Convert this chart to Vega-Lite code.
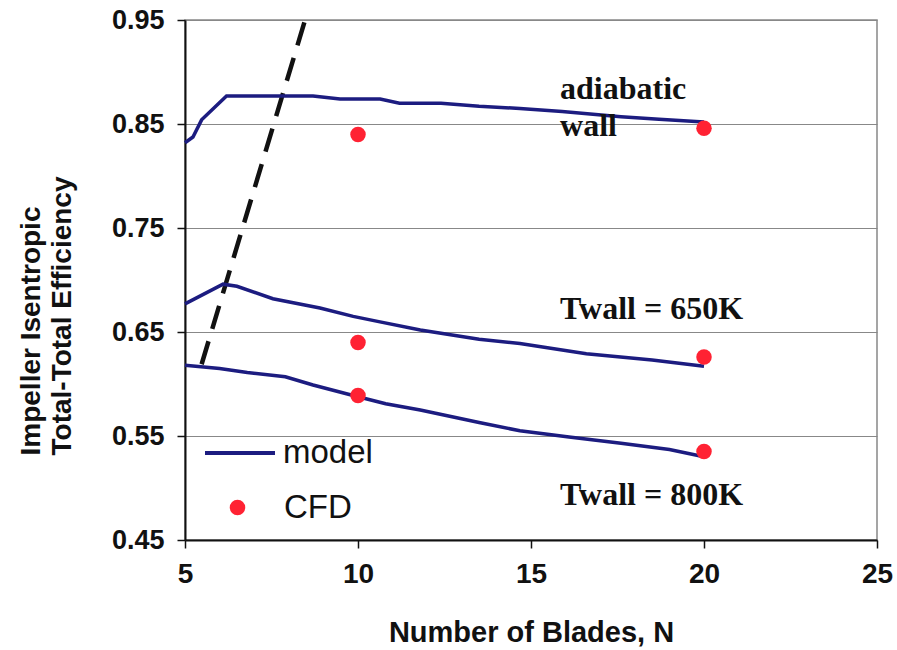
{
  "$schema": "https://vega.github.io/schema/vega-lite/v6.json",
  "width": 692,
  "height": 520,
  "autosize": {"type": "none"},
  "padding": {"left": 185, "top": 20, "right": 20, "bottom": 110},
  "background": "white",
  "config": {
    "view": {"stroke": "#888888", "strokeWidth": 1.5},
    "font": "Liberation Sans"
  },
  "data": {
    "values": [
      {"series": "model", "case": "adiabatic", "n": 5, "eff": 0.832},
      {"series": "model", "case": "adiabatic", "n": 5.23, "eff": 0.8375},
      {"series": "model", "case": "adiabatic", "n": 5.48, "eff": 0.854},
      {"series": "model", "case": "adiabatic", "n": 6.2, "eff": 0.877},
      {"series": "model", "case": "adiabatic", "n": 8.7, "eff": 0.877},
      {"series": "model", "case": "adiabatic", "n": 9.48, "eff": 0.874},
      {"series": "model", "case": "adiabatic", "n": 10.64, "eff": 0.874},
      {"series": "model", "case": "adiabatic", "n": 11.2, "eff": 0.870},
      {"series": "model", "case": "adiabatic", "n": 12.4, "eff": 0.870},
      {"series": "model", "case": "adiabatic", "n": 13.5, "eff": 0.867},
      {"series": "model", "case": "adiabatic", "n": 14.68, "eff": 0.865},
      {"series": "model", "case": "adiabatic", "n": 15.9, "eff": 0.862},
      {"series": "model", "case": "adiabatic", "n": 17.6, "eff": 0.857},
      {"series": "model", "case": "adiabatic", "n": 18.7, "eff": 0.8545},
      {"series": "model", "case": "adiabatic", "n": 20, "eff": 0.852},
      {"series": "model", "case": "650K", "n": 5, "eff": 0.677},
      {"series": "model", "case": "650K", "n": 6.1, "eff": 0.696},
      {"series": "model", "case": "650K", "n": 6.5, "eff": 0.694},
      {"series": "model", "case": "650K", "n": 7.54, "eff": 0.682},
      {"series": "model", "case": "650K", "n": 8.9, "eff": 0.673},
      {"series": "model", "case": "650K", "n": 9.86, "eff": 0.665},
      {"series": "model", "case": "650K", "n": 10.6, "eff": 0.660},
      {"series": "model", "case": "650K", "n": 11.8, "eff": 0.652},
      {"series": "model", "case": "650K", "n": 13.5, "eff": 0.643},
      {"series": "model", "case": "650K", "n": 14.68, "eff": 0.639},
      {"series": "model", "case": "650K", "n": 16.6, "eff": 0.629},
      {"series": "model", "case": "650K", "n": 18.5, "eff": 0.623},
      {"series": "model", "case": "650K", "n": 20, "eff": 0.617},
      {"series": "model", "case": "800K", "n": 5, "eff": 0.618},
      {"series": "model", "case": "800K", "n": 6.0, "eff": 0.615},
      {"series": "model", "case": "800K", "n": 6.8, "eff": 0.611},
      {"series": "model", "case": "800K", "n": 7.9, "eff": 0.607},
      {"series": "model", "case": "800K", "n": 8.7, "eff": 0.599},
      {"series": "model", "case": "800K", "n": 9.86, "eff": 0.589},
      {"series": "model", "case": "800K", "n": 10.8, "eff": 0.581},
      {"series": "model", "case": "800K", "n": 11.8, "eff": 0.575},
      {"series": "model", "case": "800K", "n": 13.5, "eff": 0.563},
      {"series": "model", "case": "800K", "n": 14.68, "eff": 0.555},
      {"series": "model", "case": "800K", "n": 16.1, "eff": 0.549},
      {"series": "model", "case": "800K", "n": 17.6, "eff": 0.543},
      {"series": "model", "case": "800K", "n": 19.0, "eff": 0.537},
      {"series": "model", "case": "800K", "n": 20, "eff": 0.530},
      {"series": "CFD", "case": "adiabatic", "n": 10, "eff": 0.840},
      {"series": "CFD", "case": "650K", "n": 10, "eff": 0.640},
      {"series": "CFD", "case": "800K", "n": 10, "eff": 0.589},
      {"series": "CFD", "case": "adiabatic", "n": 20, "eff": 0.846},
      {"series": "CFD", "case": "650K", "n": 20, "eff": 0.626},
      {"series": "CFD", "case": "800K", "n": 20, "eff": 0.535},
      {"series": "limit", "case": "limit", "n": 5.48, "eff": 0.619},
      {"series": "limit", "case": "limit", "n": 8.47, "eff": 0.95},
      {"series": "label", "case": "adiabatic", "n": 15.84, "eff": 0.8738, "text": "adiabatic"},
      {"series": "label", "case": "adiabatic", "n": 15.84, "eff": 0.8385, "text": "wall"},
      {"series": "label", "case": "650K", "n": 15.84, "eff": 0.6625, "text": "Twall = 650K"},
      {"series": "label", "case": "800K", "n": 15.84, "eff": 0.4837, "text": "Twall = 800K"}
    ]
  },
  "encoding": {
    "x": {
      "field": "n", "type": "quantitative",
      "scale": {"domain": [5, 25], "nice": false, "zero": false},
      "axis": {
        "values": [5, 10, 15, 20, 25],
        "grid": false,
        "title": "Number of Blades, N",
        "domainColor": "#111111", "domainWidth": 2,
        "tickColor": "#111111", "tickSize": 8, "tickWidth": 1.5,
        "labelFont": "Liberation Sans", "labelFontSize": 28, "labelFontWeight": "bold", "labelColor": "#111111",
        "labelPadding": 12, "labelFlush": false,
        "titleFont": "Liberation Sans", "titleFontSize": 29, "titleFontWeight": "bold", "titleColor": "#111111",
        "titlePadding": 30
      }
    },
    "y": {
      "field": "eff", "type": "quantitative",
      "scale": {"domain": [0.45, 0.95], "nice": false, "zero": false},
      "axis": {
        "values": [0.45, 0.55, 0.65, 0.75, 0.85, 0.95],
        "format": ".2f",
        "grid": true, "gridColor": "#888888", "gridWidth": 1.2,
        "domainColor": "#111111", "domainWidth": 2,
        "tickColor": "#111111", "tickSize": 8, "tickWidth": 1.5,
        "labelFont": "Liberation Sans", "labelFontSize": 27, "labelFontWeight": "bold", "labelColor": "#111111",
        "labelPadding": 13, "labelFlush": false,
        "title": ["Impeller Isentropic", "Total-Total Efficiency"],
        "titleFont": "Liberation Sans", "titleFontSize": 28, "titleFontWeight": "bold", "titleColor": "#111111",
        "titleAngle": -90, "titleAlign": "left", "titleBaseline": "bottom",
        "titleX": -140, "titleY": 435, "titleLineHeight": 31
      }
    }
  },
  "layer": [
    {
      "transform": [{"filter": "datum.series === 'limit'"}],
      "mark": {"type": "line", "color": "#111111", "strokeWidth": 4.5, "strokeDash": [24, 13], "clip": true},
      "encoding": {}
    },
    {
      "transform": [{"filter": "datum.series === 'model'"}],
      "mark": {"type": "line", "strokeWidth": 3.5},
      "encoding": {
        "detail": {"field": "case"},
        "stroke": {
          "field": "series", "type": "nominal",
          "scale": {"domain": ["model"], "range": ["#1c1c80"]},
          "legend": {
            "orient": "none", "legendX": 18, "legendY": 396, "title": null, "padding": 0,
            "symbolType": "stroke", "symbolSize": 4900, "symbolStrokeWidth": 4,
            "labelFont": "Liberation Sans", "labelFontSize": 33, "labelColor": "#111111", "labelOffset": 6
          }
        }
      }
    },
    {
      "transform": [{"filter": "datum.series === 'CFD'"}],
      "mark": {"type": "circle", "size": 240, "opacity": 1},
      "encoding": {
        "fill": {
          "field": "series", "type": "nominal",
          "scale": {"domain": ["CFD"], "range": ["#ff2233"]},
          "legend": {
            "orient": "none", "legendX": 36, "legendY": 471, "title": null, "padding": 0,
            "symbolType": "circle", "symbolSize": 240, "symbolStrokeWidth": 0, "symbolOpacity": 1,
            "labelFont": "Liberation Sans", "labelFontSize": 33, "labelColor": "#111111", "labelOffset": 30
          }
        }
      }
    },
    {
      "transform": [{"filter": "datum.series === 'label'"}],
      "mark": {"type": "text", "align": "left", "baseline": "alphabetic", "font": "Liberation Serif", "fontWeight": "bold", "fontSize": 32, "color": "#111111"},
      "encoding": {"text": {"field": "text"}}
    }
  ]
}
